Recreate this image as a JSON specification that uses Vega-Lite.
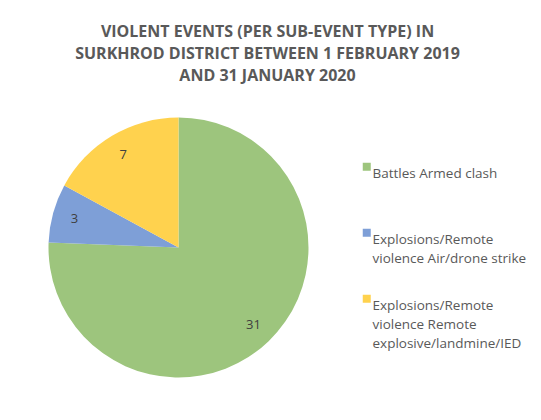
{
  "$schema": "https://vega.github.io/schema/vega-lite/v6.json",
  "width": 261,
  "height": 261,
  "autosize": {"type": "none"},
  "padding": {"left": 48, "top": 117, "right": 232, "bottom": 42},
  "background": "white",
  "title": {
    "text": ["VIOLENT EVENTS (PER SUB-EVENT TYPE) IN", "SURKHROD DISTRICT BETWEEN 1 FEBRUARY 2019", "AND 31 JANUARY 2020"],
    "anchor": "middle",
    "frame": "group",
    "dx": 89,
    "offset": 33,
    "font": "Open Sans",
    "fontSize": 16,
    "letterSpacing": 0.4,
    "fontWeight": "bold",
    "color": "#595959",
    "lineHeight": 22
  },
  "data": {
    "values": [
      {"type": "Battles Armed clash", "events": 31, "order": 1},
      {"type": "Explosions/Remote violence Air/drone strike", "events": 3, "order": 2},
      {"type": "Explosions/Remote violence Remote explosive/landmine/IED", "events": 7, "order": 3}
    ]
  },
  "encoding": {
    "theta": {"field": "events", "type": "quantitative", "stack": true},
    "order": {"field": "order", "type": "quantitative"},
    "color": {
      "field": "type",
      "type": "nominal",
      "scale": {
        "domain": ["Battles Armed clash", "Explosions/Remote violence Air/drone strike", "Explosions/Remote violence Remote explosive/landmine/IED"],
        "range": ["#9DC57D", "#7E9FD7", "#FFD24E"]
      },
      "legend": {
        "title": null,
        "orient": "none",
        "legendX": 312,
        "legendY": 43,
        "padding": 0,
        "symbolType": "square",
        "symbolSize": 64,
        "symbolStrokeWidth": 0,
        "labelFont": "Open Sans",
        "labelFontSize": 13.5,
        "labelColor": "#595959",
        "labelLimit": 300,
        "labelBaseline": "top",
        "labelOffset": -1,
        "rowPadding": 7,
        "gridAlign": "all",
        "labelExpr": "datum.label == 'Battles Armed clash' ? 'Battles Armed clash' : (datum.label == 'Explosions/Remote violence Air/drone strike' ? ['Explosions/Remote', 'violence Air/drone strike'] : ['Explosions/Remote', 'violence Remote', 'explosive/landmine/IED'])"
      }
    }
  },
  "layer": [
    {"mark": {"type": "arc", "outerRadius": 130}},
    {
      "mark": {"type": "text", "radius": 108, "font": "Open Sans", "fontSize": 13, "color": "#404040"},
      "encoding": {"text": {"field": "events", "type": "quantitative"}, "color": {"value": "#404040"}}
    }
  ],
  "config": {
    "view": {"stroke": null},
    "style": {"guide-label": {"lineHeight": 19}}
  }
}
